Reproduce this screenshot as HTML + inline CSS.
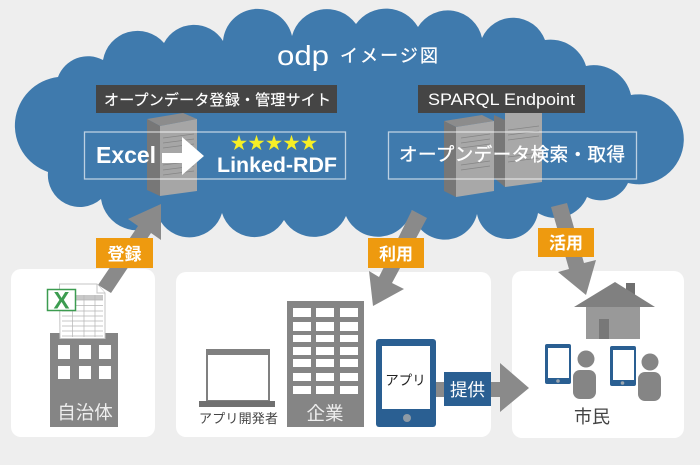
<!DOCTYPE html>
<html lang="ja"><head><meta charset="utf-8"><title>odp</title>
<style>
html,body{margin:0;padding:0;background:#eee}
svg{display:block}
text{font-family:"Liberation Sans","Noto Sans CJK JP",sans-serif}
</style></head><body>
<svg width="700" height="465" viewBox="0 0 700 465" xmlns="http://www.w3.org/2000/svg">
<rect width="700" height="465" fill="#eeeeee"/>
<path fill="#3f7aad" d="M58 77 A49 49 0 0 0 48 172 A32 32 0 0 0 101 199 A37 37 0 0 0 161 222 A34 34 0 0 0 222 213 A34 34 0 0 0 284 220 A35 35 0 0 0 346 216 A35 35 0 0 0 412 210 A33 33 0 0 0 477 214 A31 31 0 0 0 538 213 A34 34 0 0 0 587 197 A30 30 0 0 0 628 183 A45 45 0 1 0 631 95 A38 38 0 0 0 586 66 A37 37 0 0 0 545 40 A34 34 0 0 0 482 38 A35 35 0 0 0 418 27 A37 37 0 0 0 356 24 A36 36 0 0 0 292 36 A35 35 0 0 0 223 41 A34 34 0 0 0 164 43 A35 35 0 0 0 103 60 A32 32 0 0 0 58 77Z"/>

<!-- cards -->
<rect x="11" y="269" width="144" height="168" rx="10" fill="#fff"/>
<rect x="176" y="272" width="315" height="165" rx="10" fill="#fff"/>
<rect x="512" y="271" width="172" height="167" rx="10" fill="#fff"/>

<!-- title -->
<text x="277" y="65" font-size="28" fill="#fff" textLength="52" lengthAdjust="spacingAndGlyphs">odp</text>
<text x="340" y="62" font-size="18" fill="#fff" stroke="#fff" stroke-width=".3" textLength="98">イメージ図</text>

<!-- servers -->
<g>
<polygon points="147,119 183,113 197,119 160,126" fill="#8c8c8c"/>
<polygon points="147,119 160,126 160,196 147,190" fill="#777"/>
<polygon points="160,126 197,119 197,191 160,196" fill="#a6a6a6"/>
<g stroke="#858585" stroke-width=".7"><line x1="163" y1="138" x2="194" y2="134"/><line x1="163" y1="143" x2="194" y2="139"/><line x1="163" y1="148" x2="194" y2="144"/><line x1="163" y1="165" x2="194" y2="161"/><line x1="163" y1="170" x2="194" y2="166"/><line x1="163" y1="175" x2="194" y2="171"/></g>
</g>
<g>
<polygon points="494,115 505,120 505,187 494,178" fill="#777"/>
<polygon points="505,113 542,113 542,182 505,187" fill="#a8a8a8"/>
<g stroke="#858585" stroke-width=".7"><line x1="508" y1="130" x2="539" y2="126"/><line x1="508" y1="135" x2="539" y2="131"/><line x1="508" y1="140" x2="539" y2="136"/><line x1="508" y1="157" x2="539" y2="153"/><line x1="508" y1="162" x2="539" y2="158"/></g>
<polygon points="444,121 482,115 494,121 456,127" fill="#8c8c8c"/>
<polygon points="444,121 456,127 456,197 444,191" fill="#777"/>
<polygon points="456,127 494,121 494,191 456,197" fill="#a8a8a8"/>
<g stroke="#858585" stroke-width=".7"><line x1="461" y1="138" x2="490" y2="134"/><line x1="461" y1="143" x2="490" y2="139"/><line x1="461" y1="148" x2="490" y2="144"/><line x1="461" y1="165" x2="490" y2="161"/><line x1="461" y1="170" x2="490" y2="166"/></g>
</g>

<!-- dark labels -->
<rect x="96" y="85" width="241" height="28" fill="#454545"/>
<text x="104" y="105" font-size="15" fill="#fff" stroke="#fff" stroke-width=".2" textLength="227">オープンデータ登録・管理サイト</text>
<rect x="418" y="85" width="167" height="28" fill="#454545"/>
<text x="428" y="105" font-size="16.500" fill="#fff" textLength="147" lengthAdjust="spacingAndGlyphs">SPARQL Endpoint</text>

<!-- boxes -->
<rect x="84.5" y="132" width="261" height="47" fill="none" stroke="#fff" stroke-opacity=".65" stroke-width="1.3"/>
<rect x="388.5" y="132" width="248" height="47" fill="none" stroke="#fff" stroke-opacity=".65" stroke-width="1.3"/>

<text x="96" y="163" font-size="23" font-weight="700" fill="#fff" textLength="60" lengthAdjust="spacingAndGlyphs">Excel</text>
<polygon points="162,153 182,153 182,137 204,156 182,175 182,163 162,163" fill="#fff"/>
<g font-size="17" fill="#f6ef26" text-anchor="middle">
<text x="239" y="149">★</text><text x="256.500" y="149">★</text><text x="274" y="149">★</text><text x="291.500" y="149">★</text><text x="309" y="149">★</text>
</g>
<text x="217" y="172" font-size="21" font-weight="700" fill="#fff" textLength="120" lengthAdjust="spacingAndGlyphs">Linked-RDF</text>
<text x="399" y="161" font-size="18.500" fill="#fff" stroke="#fff" stroke-width=".35" textLength="226">オープンデータ検索・取得</text>

<!-- gray arrows -->
<g fill="#8a8a8a">
<polygon points="98,285 138,226 128,219 161,204 161,240 151,233 111,293"/>
<polygon points="412,210 427,218 392,283 404,289 373,306 369,271 379,277"/>
<polygon points="551,207 567,203 584,263 596,260 586,295 558,272 569,269"/>
<polygon points="430,382 500,382 500,363 529,388 500,412 500,397 430,397"/>
</g>

<!-- orange labels -->
<rect x="96" y="238" width="57" height="30" fill="#ee9a0f"/>
<text x="124.500" y="260" font-size="17" font-weight="700" fill="#fff" text-anchor="middle">登録</text>
<rect x="368" y="238" width="56" height="30" fill="#ee9a0f"/>
<text x="396" y="260" font-size="17" font-weight="700" fill="#fff" text-anchor="middle">利用</text>
<rect x="538" y="228" width="56" height="29" fill="#ee9a0f"/>
<text x="566" y="249" font-size="17" font-weight="700" fill="#fff" text-anchor="middle">活用</text>

<!-- municipality -->
<rect x="50" y="333" width="68" height="94" fill="#858585"/>
<g fill="#fff">
<rect x="58" y="345" width="12" height="14"/><rect x="79" y="345" width="12" height="14"/><rect x="99" y="345" width="12" height="14"/>
<rect x="58" y="366" width="12" height="13"/><rect x="79" y="366" width="12" height="13"/><rect x="99" y="366" width="12" height="13"/>
</g>
<text x="85" y="419" font-size="18.500" fill="#eee" text-anchor="middle">自治体</text>
<path d="M59.500 284 H97 L105 293 V338.500 H60 Z" fill="#fff" stroke="#c4c4c4"/>
<path d="M97 284 V293 H105" fill="#fff" stroke="#c4c4c4"/>
<rect x="62" y="295" width="41" height="5" fill="#c8c8c8"/>
<g stroke="#b5b5b5" stroke-width=".7" fill="none">
<path d="M62 300H103M62 305.500H103M62 311H103M62 316H103M62 321H103M62 326H103M62 331H103M62 336H103"/>
<path d="M72.500 295V337M84 295V337M95 295V337"/>
</g>
<rect x="47.500" y="289.500" width="28" height="21" fill="#fff" stroke="#3c9c50" stroke-width="1.500"/>
<text x="61.500" y="308.500" font-size="24" font-weight="700" fill="#3c9c50" text-anchor="middle">X</text>

<!-- laptop -->
<rect x="207" y="350" width="62" height="51" fill="#fff" stroke="#808080" stroke-width="2"/>
<rect x="206" y="349" width="64" height="6" fill="#808080"/>
<rect x="199" y="401" width="76" height="6" fill="#707070"/>
<text x="199" y="423" font-size="13" fill="#444" textLength="79">アプリ開発者</text>

<!-- company -->
<rect x="287" y="301" width="77" height="126" fill="#858585"/>
<g fill="#fff">
<rect x="293" y="308" width="18" height="9"/><rect x="316" y="308" width="18" height="9"/><rect x="340" y="308" width="18" height="9"/>
<rect x="293" y="322" width="18" height="9"/><rect x="316" y="322" width="18" height="9"/><rect x="340" y="322" width="18" height="9"/>
<rect x="293" y="335" width="18" height="7"/><rect x="316" y="335" width="18" height="7"/><rect x="340" y="335" width="18" height="7"/>
<rect x="293" y="347" width="18" height="8"/><rect x="316" y="347" width="18" height="8"/><rect x="340" y="347" width="18" height="8"/>
<rect x="293" y="359" width="18" height="8"/><rect x="316" y="359" width="18" height="8"/><rect x="340" y="359" width="18" height="8"/>
<rect x="293" y="373" width="18" height="8"/><rect x="316" y="373" width="18" height="8"/><rect x="340" y="373" width="18" height="8"/>
<rect x="293" y="386" width="18" height="8"/><rect x="316" y="386" width="18" height="8"/><rect x="340" y="386" width="18" height="8"/>
</g>
<text x="325" y="420" font-size="18.500" fill="#eee" text-anchor="middle">企業</text>

<!-- tablet -->
<rect x="376" y="339" width="60" height="88" rx="3" fill="#2a5f92"/>
<rect x="382" y="346" width="48" height="63" fill="#fff"/>
<circle cx="407" cy="418" r="4" fill="#8e9aa5"/>
<text x="405.500" y="385" font-size="13.500" fill="#222" text-anchor="middle">アプリ</text>

<!-- provide -->
<rect x="444" y="372" width="47" height="34" fill="#2a5f92"/>
<text x="467.500" y="396" font-size="17.500" fill="#fff" text-anchor="middle">提供</text>

<!-- house -->
<rect x="626" y="283" width="9" height="14" fill="#6f6f6f"/>
<rect x="586" y="307" width="54" height="32" fill="#999"/>
<rect x="599" y="319" width="10" height="20" fill="#787878"/>
<polygon points="615,282 574,307 655,307" fill="#808080"/>

<!-- phones & people -->
<rect x="545" y="344" width="26" height="40" rx="2" fill="#2a5f92"/>
<rect x="548" y="348" width="21" height="30" fill="#fff"/>
<circle cx="558" cy="381" r="1.800" fill="#9aa5af"/>
<rect x="610" y="346" width="26" height="40" rx="2" fill="#2a5f92"/>
<rect x="613" y="350" width="21" height="30" fill="#fff"/>
<circle cx="622.500" cy="383" r="1.800" fill="#9aa5af"/>
<g fill="#858585">
<circle cx="586" cy="359" r="8.500"/><rect x="573" y="370" width="23" height="29" rx="7"/>
<circle cx="650" cy="362" r="8.500"/><rect x="638" y="372" width="23" height="29" rx="7"/>
</g>
<text x="592" y="423" font-size="18" fill="#444" text-anchor="middle">市民</text>
</svg>
</body></html>
